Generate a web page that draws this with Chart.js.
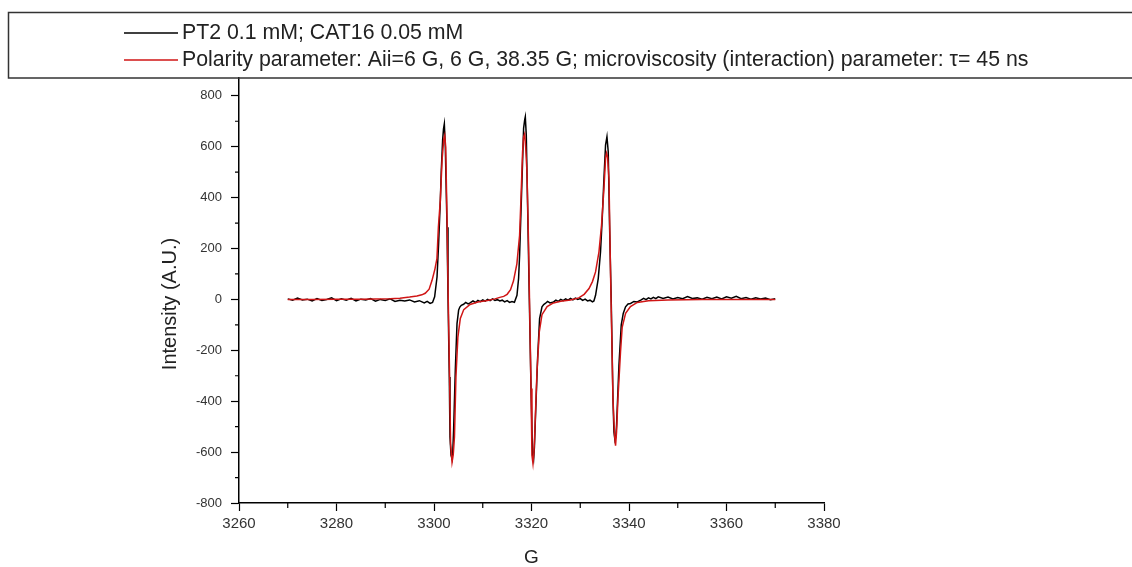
<!DOCTYPE html>
<html>
<head>
<meta charset="utf-8">
<script src="https://cdn.jsdelivr.net/npm/chart.js@4.4.0/dist/chart.umd.min.js"></script>
<style>
  html, body { margin: 0; padding: 0; background: #fff; }
  canvas { display: block; }
</style>
</head>
<body>
<canvas id="epr" width="1132" height="567"></canvas>
<script>
// Measured spectrum (black) - field in G, intensity in A.U.
const fieldBlack = [
  3270, 3271, 3272, 3273, 3274, 3275, 3276, 3277, 3278, 3279, 3280, 3281, 3282, 3283, 3284,
  3285, 3286, 3287, 3288, 3289, 3290, 3291, 3292, 3293, 3294, 3295, 3296, 3297, 3298, 3298.6,
  3299.2, 3299.7,
  3300.13, 3300.62, 3300.95, 3301.3, 3301.5, 3301.77, 3301.95, 3302.12, 3302.32, 3302.67, 3302.87,
  3303.14, 3303.28, 3303.49, 3303.69, 3303.85, 3304.02, 3304.37, 3304.72, 3305.05, 3305.3, 3305.6,
  3306.07, 3306.5, 3307, 3307.4,
  3308, 3308.5, 3309, 3309.5, 3310, 3310.5, 3311, 3311.5, 3312, 3312.5, 3313, 3313.5, 3314, 3314.5,
  3315, 3315.5, 3316, 3316.5,
  3317.02, 3317.35, 3317.56, 3317.84, 3318.17, 3318.38, 3318.6, 3318.73, 3318.93, 3319.2, 3319.55,
  3319.9, 3320.22, 3320.43, 3320.6, 3320.78, 3321.25, 3321.66, 3322.15, 3322.5, 3322.83, 3323.3,
  3323.8, 3324.53,
  3325, 3325.5, 3326, 3326.5, 3327, 3327.5, 3328, 3328.5, 3329, 3329.5, 3330, 3330.5, 3331, 3331.5,
  3332, 3332.5, 3332.8,
  3333.14, 3333.69, 3334.16, 3334.51, 3334.86, 3335.19, 3335.48, 3335.74, 3336.01, 3336.36, 3336.71,
  3336.91, 3337.12, 3337.3, 3337.45, 3337.94, 3338.41, 3338.82, 3339.29, 3339.8, 3340.32, 3341, 3341.69,
  3342.5, 3343, 3343.5, 3344, 3344.5, 3345, 3345.5, 3346, 3347, 3348, 3349, 3350, 3351, 3352, 3353,
  3354, 3355, 3356, 3357, 3358, 3359, 3360, 3361, 3362, 3363, 3364, 3365, 3366, 3367, 3368, 3369, 3370
];
const intBlack = [
  2, -3, 5, -2, 1, -6, 3, -4, 0, 6, -5, 2, -3, 4, -6,
  1, -2, 3, -7, 0, -4, 2, -8, -3, -6, -2, -10, -5, -14, -8,
  -16, -12,
  10, 88, 221, 390, 508, 626, 670, 690, 599, 284, 16,
  -305, -541, -612, -625, -600, -514, -278, -95, -42, -30, -23,
  -19, -12, -18, -14,
  -6, -12, -4, -9, -2, -7, 0, -5, 2, -4, -1, -6, -3, -10,
  -5, -12, -8, -11,
  16, 82, 174, 344, 541, 672, 705, 717, 645, 370, 4,
  -350, -612, -630, -580, -481, -232, -75, -29, -20, -16, -8,
  -14, -10,
  -3, -8, 0, -5, 2, -3, 4, -2, 5, 0, 3, -4, 1, -6,
  -3, -10, -6,
  16, 82, 187, 318, 475, 606, 639, 580, 292, -10, -390,
  -521, -553, -540, -494, -258, -100, -55, -29, -18, -16, -8, -10,
  -2, 4, -1, 6, 2, 8, 3, 10, 4, 9, 2, 7, 3, 11, 4,
  6, 1, 8, 3, 9, 2, 10, 5, 12, 3, 7, 1, 6, 2, 5, -1, 3
];

// Simulated spectrum (red)
const fieldRed = [
  3270, 3275, 3280, 3285, 3288, 3291, 3293, 3295, 3296.5, 3297.5, 3298.2, 3299, 3299.6, 3300.2,
  3300.6, 3300.9, 3301.3, 3301.65, 3302.0, 3302.2, 3302.4, 3302.7, 3302.9, 3303.2, 3303.4, 3303.7,
  3303.95, 3304.2, 3304.5, 3304.9, 3305.4, 3306.1, 3307.4, 3309, 3311, 3312.5, 3313.5, 3314.3,
  3315, 3315.7, 3316.3, 3317.0, 3317.56, 3317.84, 3318.17, 3318.38, 3318.58, 3318.8, 3319.07,
  3319.4, 3319.61, 3319.9, 3320.09, 3320.3, 3320.5, 3320.63, 3321.12, 3321.6, 3322.15, 3323.2,
  3324.5, 3326, 3328, 3329.7, 3330.8, 3331.8, 3332.5, 3333.14, 3333.84, 3334.37, 3334.86, 3335.19,
  3335.4, 3335.6, 3335.89, 3336.22, 3336.42, 3336.71, 3337.04, 3337.24, 3337.45, 3337.73, 3338.26,
  3338.6, 3339.3, 3340.3, 3341.7, 3344, 3348, 3355, 3362, 3370
];
const intRed = [
  0, 0, 1, 1, 2, 3, 5, 9, 13, 18, 24, 40, 75, 120,
  160, 284, 390, 546, 630, 645, 600, 284, 24, -305, -567, -640,
  -610, -540, -305, -148, -75, -40, -20, -10, -4, 2, 8, 12,
  20, 38, 72, 140, 252, 396, 580, 639, 650, 600, 501,
  213, -23, -350, -612, -645, -600, -547, -285, -128, -60, -28,
  -14, -7, -2, 6, 20, 43, 70, 108, 187, 292, 436, 554,
  575, 560, 474, 95, -100, -390, -534, -575, -520, -390, -206,
  -110, -55, -28, -12, -5, -2, 0, 0, 0
];

const xTicks = [3260, 3280, 3300, 3320, 3340, 3360, 3380];
const yTicks = [-800, -600, -400, -200, 0, 200, 400, 600, 800];
const xMinor = [3270, 3290, 3310, 3330, 3350, 3370];
const yMinor = [-700, -500, -300, -100, 100, 300, 500, 700];

const labelBlack = "PT2 0.1 mM; CAT16 0.05 mM";
const labelRed = "Polarity parameter: Aii=6 G, 6 G, 38.35 G; microviscosity (interaction) parameter: \u03c4= 45 ns";
const yTitle = "Intensity (A.U.)";

// legend box, minor ticks and y title
const extras = {
  id: "extras",
  afterDraw(chart) {
    const ctx = chart.ctx;
    const xs = chart.scales.x, ys = chart.scales.y;
    ctx.save();
    ctx.strokeStyle = "#000";
    ctx.lineWidth = 1.2;
    ctx.beginPath();
    xMinor.forEach((v) => {
      const px = xs.getPixelForValue(v);
      ctx.moveTo(px, ys.bottom);
      ctx.lineTo(px, ys.bottom + 5);
    });
    yMinor.forEach((v) => {
      const py = ys.getPixelForValue(v);
      ctx.moveTo(xs.left, py);
      ctx.lineTo(xs.left - 4, py);
    });
    ctx.stroke();

    // y title
    ctx.save();
    ctx.translate(170, 304);
    ctx.rotate(-Math.PI / 2);
    ctx.font = "20px 'Liberation Sans', Arial, sans-serif";
    ctx.fillStyle = "#222";
    ctx.textAlign = "center";
    ctx.textBaseline = "middle";
    ctx.fillText(yTitle, 0, 0);
    ctx.restore();

    // legend frame
    ctx.strokeStyle = "#333";
    ctx.lineWidth = 1.5;
    ctx.strokeRect(8.5, 12.5, 1140, 65.5);

    const rows = [33, 60];
    ctx.font = "21.3px 'Liberation Sans', Arial, sans-serif";
    ctx.textBaseline = "middle";
    chart.data.datasets.forEach((ds, i) => {
      ctx.strokeStyle = ds.borderColor;
      ctx.lineWidth = 1.3;
      ctx.beginPath();
      ctx.moveTo(124, rows[i]);
      ctx.lineTo(178, rows[i]);
      ctx.stroke();
      ctx.fillStyle = "#222";
      ctx.fillText(ds.label, 182, rows[i]);
    });
    ctx.restore();
  }
};

new Chart(document.getElementById("epr"), {
  type: "line",
  data: {
    datasets: [
      {
        label: labelBlack,
        data: fieldBlack.map((g, i) => ({ x: g, y: intBlack[i] })),
        borderColor: "#000000",
        borderWidth: 1.5,
        pointRadius: 0,
        order: 2
      },
      {
        label: labelRed,
        data: fieldRed.map((g, i) => ({ x: g, y: intRed[i] })),
        borderColor: "#d01515",
        borderWidth: 1.5,
        pointRadius: 0,
        order: 1
      }
    ]
  },
  options: {
    responsive: false,
    animation: false,
    devicePixelRatio: 1,
    layout: { padding: { top: 78, right: 308, left: 0, bottom: 0 } },
    plugins: { legend: { display: false }, tooltip: { enabled: false } },
    scales: {
      x: {
        type: "linear",
        min: 3260,
        max: 3380,
        afterBuildTicks: (s) => { s.ticks = xTicks.map((v) => ({ value: v })); },
        afterFit: (s) => { s.height = 64; },
        grid: { drawOnChartArea: false, tickLength: 8, tickColor: "#000", tickWidth: 1.2 },
        border: { color: "#000", width: 1.5 },
        ticks: {
          color: "#333", padding: 4, maxRotation: 0,
          font: { family: "'Liberation Sans', Arial", size: 15 },
          callback: (v) => String(v)
        },
        title: { display: true, text: "G", color: "#222", padding: 0, font: { family: "'Liberation Sans', Arial", size: 19, lineHeight: 1 } }
      },
      y: {
        min: -800,
        max: 870,
        afterBuildTicks: (s) => { s.ticks = yTicks.map((v) => ({ value: v })); },
        afterFit: (s) => { s.width = 239; },
        grid: { drawOnChartArea: false, tickLength: 8, tickColor: "#000", tickWidth: 1.2 },
        border: { color: "#000", width: 1.5 },
        ticks: {
          color: "#333", padding: 9,
          font: { family: "'Liberation Sans', Arial", size: 13 },
          callback: (v) => String(v)
        }
      }
    }
  },
  plugins: [extras]
});
</script>
</body>
</html>
